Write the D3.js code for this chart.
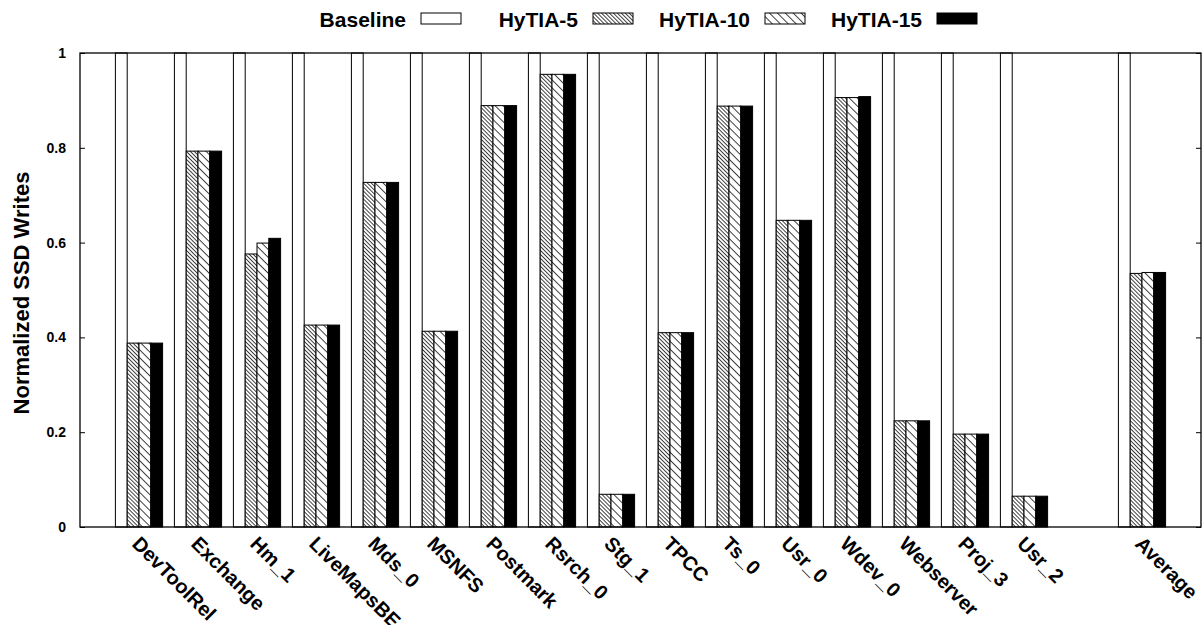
<!DOCTYPE html>
<html>
<meta charset="utf-8">
<style>
body { margin:0; padding:0; background:#fff; }
svg text { font-family: "Liberation Sans", Arial, sans-serif; font-weight: bold; fill:#000; }
</style>
<svg id="chart" width="1203" height="625"></svg>
<script src="https://cdn.jsdelivr.net/npm/d3@7/dist/d3.min.js"></script>
<script>
var categories = ["DevToolRel","Exchange","Hm_1","LiveMapsBE","Mds_0","MSNFS","Postmark","Rsrch_0",
                  "Stg_1","TPCC","Ts_0","Usr_0","Wdev_0","Webserver","Proj_3","Usr_2","Average"];
var seriesNames = ["Baseline","HyTIA-5","HyTIA-10","HyTIA-15"];
var baseline = [1,1,1,1,1,1,1,1,1,1,1,1,1,1,1,1,1];
var hytia5  = [0.388,0.793,0.576,0.426,0.727,0.413,0.889,0.955,0.069,0.410,0.888,0.647,0.906,0.224,0.196,0.065,0.535];
var hytia10 = [0.388,0.793,0.599,0.426,0.727,0.413,0.889,0.955,0.069,0.410,0.888,0.647,0.906,0.224,0.196,0.065,0.537];
var hytia15 = [0.388,0.793,0.609,0.426,0.727,0.413,0.889,0.955,0.069,0.410,0.888,0.647,0.908,0.224,0.196,0.065,0.537];
var yTicks = [0,0.2,0.4,0.6,0.8,1];
var yTickLabels = ["0","0.2","0.4","0.6","0.8","1"];
var yTitle = "Normalized SSD Writes";

var svg = d3.select("#chart"),
    margin = {top: 53, right: 2, bottom: 98, left: 80},
    W = 1203, H = 625,
    plotW = W - margin.left - margin.right,
    plotH = H - margin.top - margin.bottom;

// one empty slot before "Average"
function slot(i) { return i < categories.length - 1 ? i : i + 1; }

var x = d3.scaleLinear().domain([-1, 18]).range([margin.left, margin.left + plotW]);
var y = d3.scaleLinear().domain([0, 1]).range([margin.top + plotH, margin.top]);
var bw = (x(1) - x(0)) / 5;
var inner = d3.scaleBand().domain(seriesNames).range([-2 * bw, 2 * bw]);

var defs = svg.append("defs");
function hatch(id, gap) {
  var p = defs.append("pattern")
      .attr("id", id)
      .attr("patternUnits", "userSpaceOnUse")
      .attr("width", 10).attr("height", gap)
      .attr("patternTransform", "rotate(45)");
  p.append("rect").attr("width", 10).attr("height", gap).attr("fill", "#fff");
  p.append("line").attr("x1", 0).attr("x2", 10).attr("y1", 0.5).attr("y2", 0.5)
      .attr("stroke", "#222").attr("stroke-width", 0.9);
}
hatch("h5", 2.8);
hatch("h10", 5.6);
var fills = {"Baseline": "#fff", "HyTIA-5": "url(#h5)", "HyTIA-10": "url(#h10)", "HyTIA-15": "#000"};

var rows = categories.map(function(c, i) {
  return {name: c, pos: slot(i), values: [
    {key: "Baseline", v: baseline[i]},
    {key: "HyTIA-5", v: hytia5[i]},
    {key: "HyTIA-10", v: hytia10[i]},
    {key: "HyTIA-15", v: hytia15[i]}
  ]};
});

// bars
var grp = svg.selectAll(".grp").data(rows).enter().append("g")
    .attr("class", "grp")
    .attr("transform", function(d) { return "translate(" + x(d.pos) + ",0)"; });
grp.selectAll("rect").data(function(d) { return d.values; }).enter().append("rect")
    .attr("x", function(d) { return inner(d.key); })
    .attr("width", inner.bandwidth())
    .attr("y", function(d) { return y(d.v); })
    .attr("height", function(d) { return y(0) - y(d.v); })
    .attr("fill", function(d) { return fills[d.key]; })
    .attr("stroke", "#000")
    .attr("stroke-width", 1);

// axes (ticks point inward)
var yl = svg.append("g").attr("transform", "translate(" + margin.left + ",0)")
    .call(d3.axisLeft(y).tickValues(yTicks).tickFormat(function(d, i) { return yTickLabels[i]; })
      .tickSize(-5).tickPadding(14));
yl.selectAll("text").style("font-size", "14px").style("font-family", "Liberation Sans, Arial, sans-serif").style("font-weight", "bold");
var yr = svg.append("g").attr("transform", "translate(" + (margin.left + plotW) + ",0)")
    .call(d3.axisRight(y).tickValues(yTicks).tickFormat("").tickSize(-5));
svg.selectAll(".domain").remove();
svg.selectAll(".tick line").attr("stroke", "#000");

svg.append("rect")
    .attr("x", margin.left).attr("y", margin.top)
    .attr("width", plotW).attr("height", plotH)
    .attr("fill", "none").attr("stroke", "#000").attr("stroke-width", 1.3);

// x labels
svg.selectAll(".xl").data(rows).enter().append("text")
    .attr("class", "xl")
    .attr("transform", function(d) { return "translate(" + (x(d.pos) - 8) + ",545) rotate(45)"; })
    .style("font-size", "20px")
    .text(function(d) { return d.name; });

// y title
svg.append("text")
    .attr("transform", "translate(29," + (margin.top + plotH / 2 + 3) + ") rotate(-90)")
    .attr("text-anchor", "middle")
    .style("font-size", "22px")
    .text(yTitle);

// legend
var leg = svg.selectAll(".leg").data(seriesNames).enter().append("g")
    .attr("class", "leg")
    .attr("transform", function(d, i) { return "translate(" + (421 + i * 172) + ",0)"; });
leg.append("text").attr("x", -15).attr("y", 27).attr("text-anchor", "end")
    .style("font-size", "21px").text(function(d) { return d; });
leg.append("rect").attr("x", 0).attr("y", 13).attr("width", 40).attr("height", 11)
    .attr("fill", function(d) { return fills[d]; })
    .attr("stroke", "#000").attr("stroke-width", 1);
</script>
</html>
